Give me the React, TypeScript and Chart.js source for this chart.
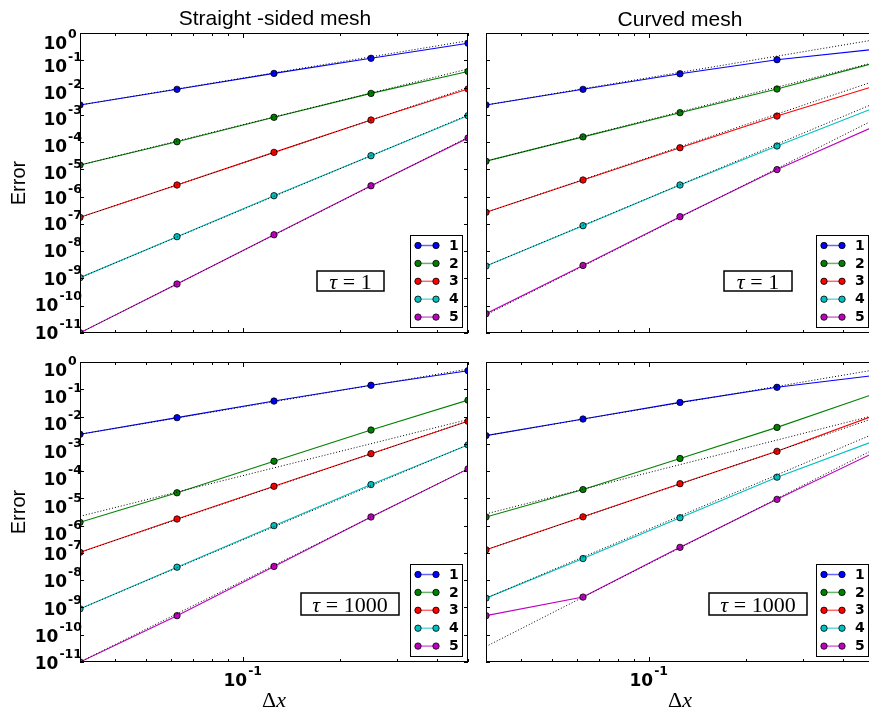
import React, { useEffect, useRef } from "react";
import { Chart, registerables } from "chart.js";

Chart.register(...registerables);

// ---------- data ----------
const dx = [1 / 32, 1 / 16, 1 / 8, 1 / 4, 1 / 2];
const orderLabels = ["1", "2", "3", "4", "5"];
const colors = ["#0000ff", "#008000", "#ff0000", "#00bfbf", "#bf00bf"];
const yExponents = [0, -1, -2, -3, -4, -5, -6, -7, -8, -9, -10, -11];
const xMinorTicks = [0.04, 0.05, 0.06, 0.07, 0.08, 0.09, 0.2, 0.3, 0.4, 0.5];
const xMajorTicks = [0.1];

// Straight-sided mesh, tau = 1
const straightT1_p1 = [2.3e-3, 8.6e-3, 3.3e-2, 0.118, 0.42];
const straightT1_p2 = [1.44e-5, 1.03e-4, 8.1e-4, 6.1e-3, 3.9e-2];
const straightT1_p3 = [1.74e-7, 2.67e-6, 4.2e-5, 6.45e-4, 8.85e-3];
const straightT1_p4 = [1.07e-9, 3.4e-8, 1.08e-6, 3.17e-5, 9.3e-4];
const straightT1_p5 = [1.02e-11, 6.25e-10, 4.0e-8, 2.5e-6, 1.41e-4];
// reference slopes (value at first and last dx)
const straightT1_ref = [[2.3e-3, 0.52], [1.44e-5, 0.048], [1.74e-7, 1.0e-2], [1.07e-9, 9.8e-4], [1.02e-11, 1.5e-4]];

// Curved mesh, tau = 1
const curvedT1_p1 = [2.3e-3, 8.6e-3, 3.2e-2, 0.105, 0.25];
const curvedT1_p2 = [2.0e-5, 1.55e-4, 1.2e-3, 8.85e-3, 0.079];
const curvedT1_p3 = [2.66e-7, 4.07e-6, 6.2e-5, 9.0e-4, 1.12e-2];
const curvedT1_p4 = [2.86e-9, 8.6e-8, 2.67e-6, 7.2e-5, 1.78e-3];
const curvedT1_p5 = [5.1e-11, 3.0e-9, 1.84e-7, 9.8e-6, 3.7e-4];
const curvedT1_ref = [[2.3e-3, 0.56], [2.0e-5, 0.083], [2.66e-7, 1.7e-2], [2.86e-9, 2.6e-3], [4.6e-11, 6.6e-4]];

// Straight-sided mesh, tau = 1000
const straightT1000_p1 = [2.24e-3, 9.1e-3, 3.7e-2, 0.14, 0.48];
const straightT1000_p2 = [1.32e-6, 1.6e-5, 2.3e-4, 3.2e-3, 0.04];
const straightT1000_p3 = [1.05e-7, 1.75e-6, 2.77e-5, 4.35e-4, 6.7e-3];
const straightT1000_p4 = [8.9e-10, 3.0e-8, 1.0e-6, 3.2e-5, 9.1e-4];
const straightT1000_p5 = [1.0e-11, 5.0e-10, 3.2e-8, 2.08e-6, 1.2e-4];
const straightT1000_ref = [[2.24e-3, 0.55], [2.2e-6, 7.8e-3], [1.05e-7, 6.9e-3], [8.9e-10, 9.3e-4], [1.0e-11, 1.22e-4]];

// Curved mesh, tau = 1000
const curvedT1000_p1 = [2.0e-3, 8.1e-3, 3.3e-2, 0.118, 0.32];
const curvedT1000_p2 = [2.08e-6, 2.1e-5, 2.9e-4, 4.0e-3, 0.067];
const curvedT1000_p3 = [1.3e-7, 2.1e-6, 3.45e-5, 5.3e-4, 1.08e-2];
const curvedT1000_p4 = [2.2e-9, 6.2e-8, 1.95e-6, 6.0e-5, 1.26e-3];
const curvedT1000_p5 = [5.0e-10, 2.4e-9, 1.6e-7, 9.2e-6, 4.7e-4];
const curvedT1000_ref = [[2.0e-3, 0.51], [2.7e-6, 1.1e-2], [1.3e-7, 8.7e-3], [2.2e-9, 2.34e-3], [3.7e-11, 6.3e-4]];

// ---------- drawing helpers ----------
const SANS = '"Liberation Sans", Arial, Helvetica, sans-serif';
const BOLD_SANS = '"DejaVu Sans", "Liberation Sans", Arial, sans-serif';
const SERIF = '"Liberation Serif", "Times New Roman", serif';
const BASE_FONT = `bold 17px ${BOLD_SANS}`;
const EXP_FONT = `bold 12.5px ${BOLD_SANS}`;

function powWidths(ctx: CanvasRenderingContext2D, exp: string) {
  ctx.font = BASE_FONT;
  const w10 = ctx.measureText("10").width;
  ctx.font = EXP_FONT;
  const we = ctx.measureText(exp).width;
  const wref = ctx.measureText("-1").width;
  return { w10, we, wref };
}

function drawPow(ctx: CanvasRenderingContext2D, xLeft: number, baseline: number, exp: string) {
  ctx.textAlign = "left";
  ctx.textBaseline = "alphabetic";
  ctx.font = BASE_FONT;
  ctx.fillText("10", xLeft, baseline);
  const w10 = ctx.measureText("10").width;
  ctx.font = EXP_FONT;
  ctx.fillText(exp, xLeft + w10 + 1, baseline - 11);
}

type PanelCfg = {
  left: number;
  top: number;
  width: number;
  height: number;
  padding: { left: number; top: number; right: number; bottom: number };
  series: number[][];
  refs: number[][];
  title?: string;
  titleBaseline?: number;
  titleShift?: number;
  tau: string;
  tauBox: { x: number; y: number; w: number; h: number };
  tauBaselineInset: number;
  yLabels: boolean;
  yLabelOffsets: number[];
  errorLabel: boolean;
  xLabels: boolean;
};

function makeDecor(cfg: PanelCfg) {
  return {
    id: "decor",
    afterDraw(chart: any) {
      const ctx: CanvasRenderingContext2D = chart.ctx;
      const a = chart.chartArea;
      const xs = chart.scales.x;
      const ys = chart.scales.y;
      ctx.save();
      ctx.fillStyle = "#000";
      ctx.strokeStyle = "#000";

      // axes box
      ctx.lineWidth = 1;
      ctx.strokeRect(a.left + 0.5, a.top + 0.5, a.right - a.left - 1, a.bottom - a.top - 1);

      // y ticks (left & right, inward)
      ctx.beginPath();
      yExponents.forEach((e) => {
        const y = Math.round(ys.getPixelForValue(Math.pow(10, e))) + 0.5;
        ctx.moveTo(a.left, y);
        ctx.lineTo(a.left + 4, y);
        ctx.moveTo(a.right - 4, y);
        ctx.lineTo(a.right, y);
      });
      // x ticks (top & bottom, inward)
      xMinorTicks.forEach((v) => {
        const x = Math.round(xs.getPixelForValue(v)) + 0.5;
        ctx.moveTo(x, a.bottom);
        ctx.lineTo(x, a.bottom - 3);
        ctx.moveTo(x, a.top);
        ctx.lineTo(x, a.top + 3);
      });
      xMajorTicks.forEach((v) => {
        const x = Math.round(xs.getPixelForValue(v)) + 0.5;
        ctx.moveTo(x, a.bottom);
        ctx.lineTo(x, a.bottom - 5);
        ctx.moveTo(x, a.top);
        ctx.lineTo(x, a.top + 5);
      });
      ctx.stroke();

      // y tick labels
      if (cfg.yLabels) {
        yExponents.forEach((e, k) => {
          const exp = e === 0 ? "0" : String(e);
          const { w10, we, wref } = powWidths(ctx, exp);
          const y = ys.getPixelForValue(Math.pow(10, e));
          const baseline = y + cfg.yLabelOffsets[k] + 6.2;
          const xLeft = a.left + 2 - Math.max(we, wref) - 1 - w10;
          drawPow(ctx, xLeft, baseline, exp);
        });
      }

      // x tick labels + axis label
      if (cfg.xLabels) {
        xMajorTicks.forEach((v) => {
          const exp = String(Math.round(Math.log10(v)));
          const { w10, we } = powWidths(ctx, exp);
          const x = xs.getPixelForValue(v);
          drawPow(ctx, x - (w10 + 1 + we) / 2, a.bottom + 23.5, exp);
        });
        const cx = (a.left + a.right) / 2;
        ctx.textBaseline = "alphabetic";
        ctx.textAlign = "left";
        ctx.font = `22px ${SERIF}`;
        const wD = ctx.measureText("\u0394").width;
        ctx.font = `italic 22px ${SERIF}`;
        const wx = ctx.measureText("x").width;
        const start = cx - (wD + wx) / 2;
        ctx.font = `22px ${SERIF}`;
        ctx.fillText("\u0394", start, a.bottom + 45);
        ctx.font = `italic 22px ${SERIF}`;
        ctx.fillText("x", start + wD, a.bottom + 45);
      }

      // y axis label
      if (cfg.errorLabel) {
        ctx.save();
        ctx.translate(19, (a.top + a.bottom) / 2);
        ctx.rotate(-Math.PI / 2);
        ctx.textAlign = "center";
        ctx.textBaseline = "middle";
        ctx.font = `20px ${SANS}`;
        ctx.fillText("Error", 0, 0);
        ctx.restore();
      }

      // title
      if (cfg.title) {
        ctx.textAlign = "center";
        ctx.textBaseline = "alphabetic";
        ctx.font = `21px ${SANS}`;
        ctx.fillText(cfg.title, (a.left + a.right) / 2 + (cfg.titleShift || 0), cfg.titleBaseline || 25);
      }

      // tau box
      {
        const b = cfg.tauBox;
        const bx = a.left + b.x;
        const by = a.top + b.y;
        ctx.fillStyle = "#fff";
        ctx.fillRect(bx, by, b.w, b.h);
        ctx.lineWidth = 1.5;
        ctx.strokeStyle = "#000";
        ctx.strokeRect(bx, by, b.w, b.h);
        ctx.fillStyle = "#000";
        ctx.textAlign = "left";
        ctx.textBaseline = "alphabetic";
        ctx.font = `italic 22px ${SERIF}`;
        const wt = ctx.measureText("\u03c4").width;
        ctx.font = `22px ${SERIF}`;
        const rest = " = " + cfg.tau;
        const wr = ctx.measureText(rest).width;
        const sx = bx + (b.w - wt - wr) / 2;
        const base = by + b.h - cfg.tauBaselineInset;
        ctx.font = `italic 22px ${SERIF}`;
        ctx.fillText("\u03c4", sx, base);
        ctx.font = `22px ${SERIF}`;
        ctx.fillText(rest, sx + wt, base);
      }

      // legend
      {
        const lx = a.left + 330;
        const ly = a.top + 202;
        ctx.fillStyle = "#fff";
        ctx.fillRect(lx, ly, 52, 92);
        ctx.lineWidth = 1;
        ctx.strokeStyle = "#000";
        ctx.strokeRect(lx + 0.5, ly + 0.5, 52, 92);
        orderLabels.forEach((lab, i) => {
          const y = ly + 10.5 + i * 17.9;
          const x1 = a.left + 338;
          const x2 = a.left + 356;
          ctx.globalAlpha = 0.6;
          ctx.strokeStyle = colors[i];
          ctx.lineWidth = 1.5;
          ctx.beginPath();
          ctx.moveTo(x1, y);
          ctx.lineTo(x2, y);
          ctx.stroke();
          ctx.globalAlpha = 1;
          [x1, x2].forEach((x) => {
            ctx.beginPath();
            ctx.arc(x, y, 3.2, 0, Math.PI * 2);
            ctx.fillStyle = colors[i];
            ctx.fill();
            ctx.lineWidth = 0.8;
            ctx.strokeStyle = "#000";
            ctx.stroke();
          });
          ctx.fillStyle = "#000";
          ctx.font = `bold 14px ${BOLD_SANS}`;
          ctx.textAlign = "left";
          ctx.textBaseline = "middle";
          ctx.fillText(lab, a.left + 369, y + 0.5);
        });
      }
      ctx.restore();
    },
  };
}

function Panel(props: { cfg: PanelCfg }) {
  const ref = useRef<HTMLCanvasElement>(null);
  const cfg = props.cfg;
  useEffect(() => {
    const datasets: any[] = [];
    cfg.series.forEach((s, i) => {
      datasets.push({
        type: "line",
        label: orderLabels[i],
        data: dx.map((x, j) => ({ x, y: s[j] })),
        borderColor: colors[i],
        backgroundColor: colors[i],
        borderWidth: 1.1,
        pointRadius: 3.2,
        pointBorderColor: "#000",
        pointBorderWidth: 0.8,
        pointBackgroundColor: colors[i],
        order: 2,
      });
    });
    cfg.refs.forEach((r, i) => {
      datasets.push({
        type: "line",
        label: "slope " + orderLabels[i],
        data: [
          { x: dx[0], y: r[0] },
          { x: dx[dx.length - 1], y: r[1] },
        ],
        borderColor: "#000",
        borderWidth: 1,
        borderDash: [1, 2],
        pointRadius: 0,
        order: 1,
      });
    });
    const chart = new Chart(ref.current as HTMLCanvasElement, {
      type: "line",
      data: { datasets },
      options: {
        animation: false,
        responsive: false,
        events: [],
        layout: { padding: cfg.padding },
        plugins: {
          legend: { display: false },
          tooltip: { enabled: false },
          title: { display: false },
        },
        scales: {
          x: { type: "logarithmic", min: dx[0], max: dx[dx.length - 1], display: false },
          y: { type: "logarithmic", min: 1e-11, max: 1, display: false },
        },
      } as any,
      plugins: [makeDecor(cfg) as any],
    });
    return () => chart.destroy();
  }, []);
  return (
    <canvas
      ref={ref}
      width={cfg.width}
      height={cfg.height}
      style={{ position: "absolute", left: cfg.left, top: cfg.top, width: cfg.width, height: cfg.height }}
    />
  );
}

const topOffsets = [10, 5.5, 5, 4, 4, 3, 1, 0, 0, 0, -0.5, 0];
const bottomOffsets = [8, 8, 7.5, 8, 8, 8, 8, 1, 1, 1, 1, 0.5];

const panels: PanelCfg[] = [
  {
    left: 0, top: 0, width: 478, height: 350,
    padding: { left: 80, top: 33, right: 10, bottom: 17 },
    series: [straightT1_p1, straightT1_p2, straightT1_p3, straightT1_p4, straightT1_p5],
    refs: straightT1_ref,
    title: "Straight -sided mesh", titleBaseline: 25, titleShift: 1,
    tau: "1", tauBox: { x: 237, y: 238, w: 67, h: 20 }, tauBaselineInset: 2.5,
    yLabels: true, yLabelOffsets: topOffsets, errorLabel: true, xLabels: false,
  },
  {
    left: 478, top: 0, width: 406, height: 350,
    padding: { left: 8, top: 33, right: 10, bottom: 17 },
    series: [curvedT1_p1, curvedT1_p2, curvedT1_p3, curvedT1_p4, curvedT1_p5],
    refs: curvedT1_ref,
    title: "Curved mesh", titleBaseline: 26, titleShift: 0,
    tau: "1", tauBox: { x: 238, y: 238, w: 68, h: 20 }, tauBaselineInset: 2.5,
    yLabels: false, yLabelOffsets: topOffsets, errorLabel: false, xLabels: false,
  },
  {
    left: 0, top: 350, width: 478, height: 362,
    padding: { left: 80, top: 12, right: 10, bottom: 50 },
    series: [straightT1000_p1, straightT1000_p2, straightT1000_p3, straightT1000_p4, straightT1000_p5],
    refs: straightT1000_ref,
    tau: "1000", tauBox: { x: 221, y: 231, w: 98, h: 22 }, tauBaselineInset: 3,
    yLabels: true, yLabelOffsets: bottomOffsets, errorLabel: true, xLabels: true,
  },
  {
    left: 478, top: 350, width: 406, height: 362,
    padding: { left: 8, top: 12, right: 10, bottom: 50 },
    series: [curvedT1000_p1, curvedT1000_p2, curvedT1000_p3, curvedT1000_p4, curvedT1000_p5],
    refs: curvedT1000_ref,
    tau: "1000", tauBox: { x: 223, y: 231, w: 98, h: 22 }, tauBaselineInset: 3,
    yLabels: false, yLabelOffsets: bottomOffsets, errorLabel: false, xLabels: true,
  },
];

export default function App() {
  return (
    <div
      style={{
        position: "absolute",
        left: 0,
        top: 0,
        width: 869,
        height: 712,
        overflow: "hidden",
        background: "#fff",
      }}
    >
      {panels.map((p, i) => (
        <Panel key={i} cfg={p} />
      ))}
    </div>
  );
}
